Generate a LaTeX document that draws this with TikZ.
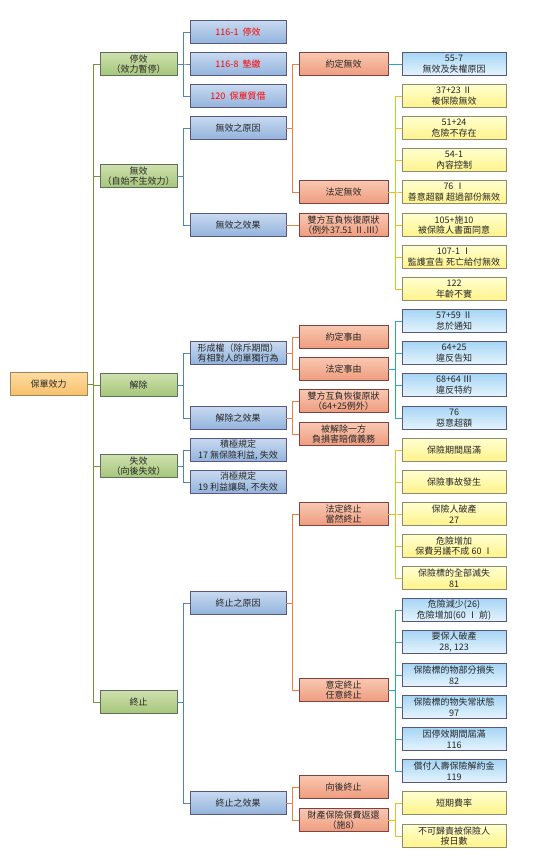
\documentclass[tikz,border=0pt]{standalone}
\usepackage{fontspec}
\setmainfont{Noto Sans CJK TC}
\usetikzlibrary{shadows}

\definecolor{gline}{HTML}{77933C}
\definecolor{bline}{HTML}{4F86B8}
\definecolor{oline}{HTML}{E8833A}
\definecolor{yline}{HTML}{EDBE1A}
\definecolor{cline}{HTML}{2F9FCB}
\definecolor{rtop}{HTML}{FDDCA0}
\definecolor{rbot}{HTML}{F8C06A}
\definecolor{gtop}{HTML}{CFE0AE}
\definecolor{gbot}{HTML}{A5C67A}
\definecolor{btop}{HTML}{C8DAF0}
\definecolor{bbot}{HTML}{93B3DC}
\definecolor{otop}{HTML}{F9C8B2}
\definecolor{obot}{HTML}{EE9C7E}
\definecolor{ytop}{HTML}{FFFFD0}
\definecolor{ybot}{HTML}{FFF38A}
\definecolor{ctop}{HTML}{A6D6F5}
\definecolor{cbot}{HTML}{E6F4FD}

\tikzset{
  box/.style={draw, line width=0.7pt, minimum height=23pt, inner sep=1pt, align=center,
    font=\fontsize{9}{10.5}\selectfont, text=black!85,
    drop shadow={opacity=0.25, shadow xshift=0.7pt, shadow yshift=-0.7pt}},
  rootbox/.style={box, minimum width=77pt, draw=black!30!rbot!70!gray, top color=rtop, bottom color=rbot},
  gbox/.style={box, minimum width=77pt, draw=gray!90!green!80!black, top color=gtop, bottom color=gbot},
  bbox/.style={box, minimum width=96pt, draw=gray!80!blue!85!black, top color=btop, bottom color=bbot},
  obox/.style={box, minimum width=89pt, draw=gray!70!red!75!black, top color=otop, bottom color=obot},
  ybox/.style={box, minimum width=104pt, draw=gray!70!yellow!75!black, top color=ytop, bottom color=ybot},
  cbox/.style={box, minimum width=104pt, draw=gray!80!blue!85!black, top color=ctop, bottom color=cbot},
  conn/.style={line width=0.8pt}
}

\begin{document}
\begin{tikzpicture}[x=1pt, y=-1pt]
\useasboundingbox (0,0) rectangle (532,858);

% root
\node(Pol)[rootbox] at (48.5,384) {保單效力};

% level 1
\node(Stop)[gbox] at (138.5,64) {停效\\（效力暫停）};
\node(Void)[gbox] at (138.5,176) {無效\\（自始不生效力）};
\node(Resc)[gbox] at (138.5,385) {解除};
\node(Laps)[gbox] at (138.5,466) {失效\\（向後失效）};
\node(Term)[gbox] at (138.5,702) {終止};

% level 2
\node(S1)[bbox, text=red] at (238,32) {116-1\ \ 停效};
\node(S2)[bbox, text=red] at (238,64) {116-8\ \ 墊繳};
\node(S3)[bbox, text=red] at (238,96) {120\ \ 保單質借};
\node(VCause)[bbox] at (238,128) {無效之原因};
\node(VEff)[bbox] at (238,225) {無效之效果};
\node(RRight)[bbox] at (238,353) {形成權（除斥期間）\\有相對人的單獨行為};
\node(REff)[bbox] at (238,418) {解除之效果};
\node(LPos)[bbox] at (238,450) {積極規定\\17 無保險利益, 失效};
\node(LNeg)[bbox] at (238,482) {消極規定\\19 利益讓與, 不失效};
\node(TCause)[bbox] at (238,603) {終止之原因};
\node(TEff)[bbox] at (238,803) {終止之效果};

% level 3
\node(VAgr)[obox] at (343.5,64) {約定無效};
\node(VLaw)[obox] at (343.5,192) {法定無效};
\node(VRest)[obox] at (343.5,225) {雙方互負恢復原狀\\（例外37.51 Ⅱ.Ⅲ）};
\node(RAgr)[obox] at (343.5,337) {約定事由};
\node(RLaw)[obox] at (343.5,369) {法定事由};
\node(RRest)[obox] at (343.5,401) {雙方互負恢復原狀\\（64+25例外）};
\node(RDam)[obox] at (343.5,434) {被解除一方\\負損害賠償義務};
\node(TLaw)[obox] at (343.5,514) {法定終止\\當然終止};
\node(TAgr)[obox] at (343.5,690) {意定終止\\任意終止};
\node(TFwd)[obox] at (343.5,787) {向後終止};
\node(TRef)[obox] at (343.5,820) {財產保險保費返還\\（施8）};

% level 4
\node(A1)[cbox] at (454,64) {55-7\\無效及失權原因};
\node(B1)[ybox] at (454,96) {37+23 Ⅱ\\複保險無效};
\node(B2)[ybox] at (454,128) {51+24\\危險不存在};
\node(B3)[ybox] at (454,160) {54-1\\內容控制};
\node(B4)[ybox] at (454,192) {76 Ⅰ\\善意超額 超過部份無效};
\node(B5)[ybox] at (454,225) {105+施10\\被保險人書面同意};
\node(B6)[ybox] at (454,257) {107-1 Ⅰ\\監護宣告 死亡給付無效};
\node(B7)[ybox] at (454,289) {122\\年齡不實};
\node(C1)[cbox] at (454,321) {57+59 Ⅱ\\怠於通知};
\node(C2)[cbox] at (454,353) {64+25\\違反告知};
\node(C3)[cbox] at (454,385) {68+64 Ⅲ\\違反特約};
\node(C4)[cbox] at (454,418) {76\\惡意超額};
\node(D1)[ybox] at (454,450) {保險期間屆滿};
\node(D2)[ybox] at (454,482) {保險事故發生};
\node(D3)[ybox] at (454,514) {保險人破產\\27};
\node(D4)[ybox] at (454,546) {危險增加\\保費另議不成 60 Ⅰ};
\node(D5)[ybox] at (454,578) {保險標的全部滅失\\81};
\node(E1)[cbox] at (454,610) {危險減少(26)\\危險增加(60 Ⅰ 前)};
\node(E2)[cbox] at (454,642) {要保人破產\\28, 123};
\node(E3)[cbox] at (454,675) {保險標的物部分損失\\82};
\node(E4)[cbox] at (454,707) {保險標的物失常狀態\\97};
\node(E5)[cbox] at (454,739) {因停效期間屆滿\\116};
\node(E6)[cbox] at (454,771) {償付人壽保險解約金\\119};
\node(F1)[ybox] at (454,803) {短期費率};
\node(F2)[ybox] at (454,836) {不可歸責被保險人\\按日數};

% connectors
\foreach \c in {Stop,Void,Resc,Laps,Term}
  \draw[conn, gline] (Pol.east) -- ++(6,0) |- (\c.west);
\foreach \c in {S1,S2,S3}
  \draw[conn, bline] (Stop.east) -- ++(6,0) |- (\c.west);
\foreach \c in {VCause,VEff}
  \draw[conn, bline] (Void.east) -- ++(6,0) |- (\c.west);
\foreach \c in {RRight,REff}
  \draw[conn, bline] (Resc.east) -- ++(6,0) |- (\c.west);
\foreach \c in {LPos,LNeg}
  \draw[conn, bline] (Laps.east) -- ++(6,0) |- (\c.west);
\foreach \c in {TCause,TEff}
  \draw[conn, bline] (Term.east) -- ++(6,0) |- (\c.west);

\foreach \c in {VAgr,VLaw}
  \draw[conn, oline] (VCause.east) -- ++(6,0) |- (\c.west);
\draw[conn, oline] (VEff.east) -- (VRest.west);
\foreach \c in {RAgr,RLaw}
  \draw[conn, oline] (RRight.east) -- ++(6,0) |- (\c.west);
\foreach \c in {RRest,RDam}
  \draw[conn, oline] (REff.east) -- ++(6,0) |- (\c.west);
\foreach \c in {TLaw,TAgr}
  \draw[conn, oline] (TCause.east) -- ++(6,0) |- (\c.west);
\foreach \c in {TFwd,TRef}
  \draw[conn, oline] (TEff.east) -- ++(6,0) |- (\c.west);

\draw[conn, cline] (VAgr.east) -- (A1.west);
\foreach \c in {B1,B2,B3,B4,B5,B6,B7}
  \draw[conn, yline] (VLaw.east) -- ++(7,0) |- (\c.west);
\foreach \c in {C1,C2,C3,C4}
  \draw[conn, cline] (RLaw.east) -- ++(7,0) |- (\c.west);
\foreach \c in {D1,D2,D3,D4,D5}
  \draw[conn, yline] (TLaw.east) -- ++(7,0) |- (\c.west);
\foreach \c in {E1,E2,E3,E4,E5,E6}
  \draw[conn, cline] (TAgr.east) -- ++(7,0) |- (\c.west);
\foreach \c in {F1,F2}
  \draw[conn, yline] (TRef.east) -- ++(7,0) |- (\c.west);
\end{tikzpicture}
\end{document}
